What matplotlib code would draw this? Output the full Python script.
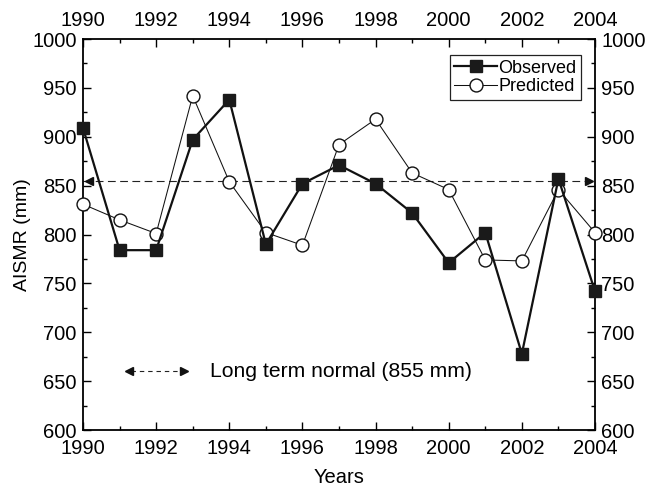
import matplotlib
matplotlib.use("Agg")
import matplotlib.pyplot as plt
from matplotlib.ticker import MultipleLocator

plt.rcParams['font.family'] = ['Liberation Sans', 'DejaVu Sans']

years = list(range(1990, 2005))
observed = [909, 784, 784, 897, 938, 790, 852, 871, 852, 822, 771, 802, 678, 857, 742]
predicted = [831, 815, 801, 942, 854, 802, 789, 892, 918, 863, 846, 774, 773, 846, 802]
normal = 855
x_ticks = [1990, 1992, 1994, 1996, 1998, 2000, 2002, 2004]
y_ticks = [600, 650, 700, 750, 800, 850, 900, 950, 1000]

fig = plt.figure(figsize=(6.49, 4.91), dpi=100)
ax = fig.add_axes([0.1279, 0.1242, 0.7889, 0.7963])

ax.plot(years, observed, '-', color='#111111', lw=1.6, marker='s', ms=9.3,
        mfc='#1a1a1a', mec='#1a1a1a', label='Observed', clip_on=False, zorder=4)
ax.plot(years, predicted, '-', color='#111111', lw=0.75, marker='o', ms=9.3,
        mfc='white', mec='#111111', mew=1.0, label='Predicted', clip_on=False, zorder=3)

# long-term normal line with arrowheads
ax.plot([years[0], years[-1]], [normal, normal], linestyle=(0, (7, 4)), color='#222222', lw=0.8, zorder=2)
ax.plot([years[0] + 0.16], [normal], marker='<', color='#111111', ms=6, zorder=2)
ax.plot([years[-1] - 0.16], [normal], marker='>', color='#111111', ms=6, zorder=2)

# annotation key
ax.plot([1991.3, 1992.72], [660, 660], linestyle=(0, (4, 3.5)), color='#222222', lw=0.8)
ax.plot([1991.27], [660], marker='<', color='#111111', ms=5.5)
ax.plot([1992.75], [660], marker='>', color='#111111', ms=5.5)
ax.text(1993.47, 660, 'Long term normal (855 mm)', fontsize=15.2, va='center', ha='left')

ax.set_xlim(1990, 2004)
ax.set_ylim(600, 1000)
ax.set_xticks(x_ticks)
ax.set_yticks(y_ticks)
ax.xaxis.set_minor_locator(MultipleLocator(1))
ax.yaxis.set_minor_locator(MultipleLocator(25))
ax.tick_params(which='both', direction='in', top=True, right=True,
               labeltop=True, labelright=True, labelsize=14.5, width=1.0)
ax.tick_params(which='major', length=5.5)
ax.tick_params(which='minor', length=3)
ax.tick_params(axis='x', which='major', pad=6.5)
ax.tick_params(axis='y', which='major', pad=4.5)
for s in ax.spines.values():
    s.set_linewidth(1.3)

ax.set_xlabel('Years', fontsize=14.5, labelpad=7)
ax.set_ylabel('AISMR (mm)', fontsize=14, labelpad=0.8)

leg = ax.legend(loc='upper right', bbox_to_anchor=(0.9727, 0.959), fontsize=13,
                fancybox=False, edgecolor='#222222', framealpha=1,
                handlelength=2.4, handletextpad=0.05, borderpad=0.25,
                labelspacing=0.08, borderaxespad=0)
leg.get_frame().set_linewidth(0.9)

fig.savefig('out.png', dpi=100)
